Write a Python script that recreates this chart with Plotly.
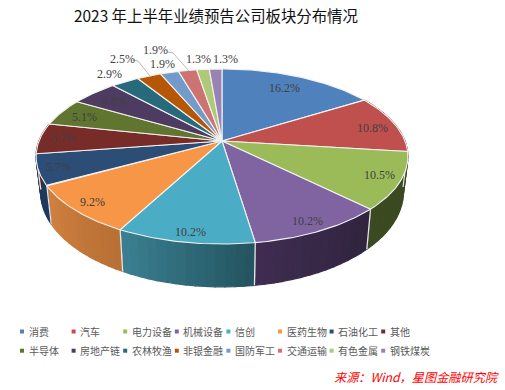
import numpy as np
import plotly.graph_objects as go

categories = ["消费", "汽车", "电力设备", "机械设备", "信创", "医药生物", "石油化工", "其他",
              "半导体", "房地产链", "农林牧渔", "非银金融", "国防军工", "交通运输", "有色金属", "钢铁煤炭"]
values = [16.2, 10.8, 10.5, 10.2, 10.2, 9.2, 5.7, 5.7, 5.1, 4.8, 2.9, 2.5, 1.9, 1.9, 1.3, 1.3]
colors = ["#4F81BD", "#C0504D", "#9BBB59", "#8064A2", "#4BACC6", "#F79646", "#2C4D75", "#772C2A",
          "#5F7530", "#4D3B62", "#276A7C", "#B65708", "#729ACA", "#CD7371", "#AFC97A", "#9983B5"]
side_left = ["#2F4D71", "#73302E", "#3B4A20", "#3F2C50", "#3A7F91", "#D08040", "#1F3A5C", "#5A2120",
             "#47581F", "#3A2C4A", "#1D5060", "#884106", "#557390", "#9A5654", "#83975B", "#736288"]
side_right = ["#2F4D71", "#73302E", "#3B4A20", "#30243F", "#245560", "#B87034", "#1F3A5C", "#5A2120",
              "#47581F", "#3A2C4A", "#1D5060", "#884106", "#557390", "#9A5654", "#83975B", "#736288"]
label_pos = [(284, 88), (372, 128), (379, 175), (307, 221), (190, 232), (92, 202), (58, 167), (63, 138),
             (84, 117), (114, 101), (109, 74), (122, 59), (162, 64), (155, 50), (198, 59), (225, 59)]
leaders = {11: [(133, 60), (138, 61), (150, 76)], 13: [(168, 52), (173, 53), (189, 71)]}

CX, CY, R, A, K = 222.0, 141.0, 183.0, 84.8, 0.177
DEPTH, SHRINK_X, SCALE_Y = 34.6, 0.975, 1.08


def top(theta):
    u, v = np.sin(theta), np.cos(theta)
    d = 1 + K * v
    return CX + R * u / d, CY - A * v / d


def bottom(theta):
    x, y = top(theta)
    return CX + SHRINK_X * (x - CX), CY + DEPTH + SCALE_Y * (y - CY)


def mix(c1, c2, t):
    a = [int(c1[i:i + 2], 16) for i in (1, 3, 5)]
    b = [int(c2[i:i + 2], 16) for i in (1, 3, 5)]
    return "rgb(%d,%d,%d)" % tuple(round(p + (q - p) * t) for p, q in zip(a, b))


fig = go.Figure()
edges = np.concatenate([[0], np.cumsum(values)]) / sum(values) * 2 * np.pi


def poly(x, y, fill, line, width):
    fig.add_trace(go.Scatter(x=x, y=y, mode="lines", fill="toself", fillcolor=fill,
                             line=dict(color=line, width=width), hoverinfo="skip", showlegend=False))


# side walls, shaded in narrow strips
for i in range(len(values)):
    start, end = edges[i], edges[i + 1]
    if end < np.pi / 2 or start > 3 * np.pi / 2:
        continue
    n = 14
    steps = np.linspace(start, end, n + 1)
    for j in range(n):
        th = np.linspace(steps[j], steps[j + 1], 4)
        tx, ty = top(th)
        bx, by = bottom(th[::-1])
        col = mix(side_left[i], side_right[i], 1 - j / (n - 1))
        poly(np.r_[tx, bx, tx[0]], np.r_[ty, by, ty[0]], col, col, 1.2)
    for e in (start, end):
        if np.pi / 2 < e < 3 * np.pi / 2:
            tx, ty = top(e)
            bx, by = bottom(e)
            fig.add_trace(go.Scatter(x=[tx, bx], y=[ty, by], mode="lines", line=dict(color="#E8E8E8", width=1.2),
                                     hoverinfo="skip", showlegend=False))

# top faces
for i in range(len(values)):
    th = np.linspace(edges[i], edges[i + 1], 60)
    x, y = top(th)
    poly(np.r_[CX, x, CX], np.r_[CY, y, CY], colors[i], "#F2F2F2", 1.1)

# leader lines
for pts in leaders.values():
    fig.add_trace(go.Scatter(x=[p[0] for p in pts], y=[p[1] for p in pts], mode="lines",
                             line=dict(color="#A6A6A6", width=0.8), hoverinfo="skip", showlegend=False))

annotations = []
for v, (x, y) in zip(values, label_pos):
    annotations.append(dict(x=x, y=y, text=f"{v:.1f}%", showarrow=False, xref="x", yref="y",
                            font=dict(family="Liberation Serif", size=12, color="#404040")))

# legend
LEG_X = [22 + 51.6 * k for k in range(8)]
LEG_Y = [331.5, 350.7]
for i, name in enumerate(categories):
    lx, ly = LEG_X[i % 8], LEG_Y[i // 8]
    fig.add_trace(go.Scatter(x=[lx], y=[ly], mode="markers", hoverinfo="skip", showlegend=False,
                             marker=dict(symbol="square", size=4, color=colors[i])))
    annotations.append(dict(x=lx + 4.5, y=ly, text=name, showarrow=False, xanchor="left", xref="x", yref="y",
                            font=dict(family="Noto Sans CJK SC", size=10, color="#595959")))

annotations.append(dict(x=216, y=15, text="2023 年上半年业绩预告公司板块分布情况", showarrow=False, xref="x", yref="y",
                        font=dict(family="Noto Sans CJK SC", size=15.4, color="#111111")))
annotations.append(dict(x=501, y=377, text="<i>来源\uff1aWind\uff0c星图金融研究院</i>", showarrow=False, xanchor="right",
                        xref="x", yref="y", font=dict(family="Noto Sans CJK SC", size=12.2, color="#FF0000")))

fig.update_layout(width=505, height=390, margin=dict(l=0, r=0, t=0, b=0), paper_bgcolor="white",
                  plot_bgcolor="white", annotations=annotations, showlegend=False,
                  xaxis=dict(range=[0, 505], visible=False, fixedrange=True),
                  yaxis=dict(range=[390, 0], visible=False, fixedrange=True))
fig.write_html("out.html", config={"displayModeBar": False},
               post_script="document.body.style.margin='0';")
